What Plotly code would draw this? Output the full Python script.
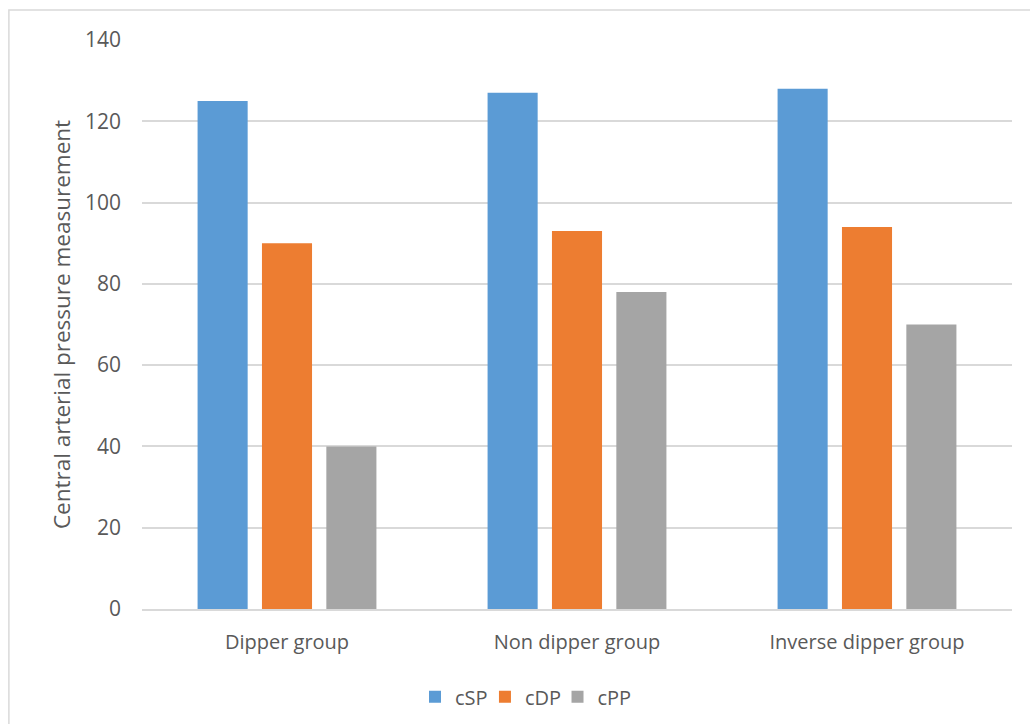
import plotly.graph_objects as go

# Group labels and central arterial pressure values per measure
groups = ["Dipper group", "Non dipper group", "Inverse dipper group"]
series_names = ["cSP", "cDP", "cPP"]
csp = [125, 127, 128]
cdp = [90, 93, 94]
cpp = [40, 78, 70]
y_ticks = [0, 20, 40, 60, 80, 100, 120, 140]

colors = ["#5B9BD5", "#ED7D31", "#A5A5A5"]
legend_ids = ["legend", "legend2", "legend3"]
legend_x = [0.3138, 0.3942, 0.4776]
font_family = "Open Sans, Calibri, Carlito, sans-serif"
text_color = "#595959"

fig = go.Figure()
for name, vals, col, lg in zip(series_names, [csp, cdp, cpp], colors, legend_ids):
    fig.add_trace(go.Bar(
        x=groups, y=vals, name=name, legend=lg,
        marker=dict(color=col, line=dict(width=0)),
    ))

# Outer chart border
fig.add_shape(
    type="rect", xref="paper", yref="paper",
    x0=-0.153, x1=1.03, y0=-0.215, y1=1.0527,
    line=dict(color="#D9D9D9", width=1.5), fillcolor="rgba(0,0,0,0)",
    layer="below",
)

# One legend box per series, laid out side by side below the axis
legend_layout = {}
for lg, lx in zip(legend_ids, legend_x):
    legend_layout[lg] = dict(
        orientation="h", x=lx, xanchor="left", y=-0.12, yanchor="top",
        font=dict(size=20, color=text_color), itemwidth=30,
        bgcolor="rgba(0,0,0,0)",
    )

fig.update_layout(
    width=1030, height=724,
    margin=dict(l=142, r=18, t=40, b=115, autoexpand=False),
    paper_bgcolor="white", plot_bgcolor="white",
    barmode="group", bargap=0.334, bargroupgap=0.222,
    font=dict(family=font_family, size=20, color=text_color),
    showlegend=True,
    xaxis=dict(
        showgrid=False, showline=True, linecolor="#D9D9D9", linewidth=1.5,
        ticks="", tickfont=dict(size=20, color=text_color),
        ticklabelstandoff=14,
    ),
    yaxis=dict(
        range=[0, 140], tickvals=y_ticks, showgrid=True,
        gridcolor="#D9D9D9", gridwidth=1.5, zeroline=False,
        showline=False, ticks="", ticklabelstandoff=20,
        tickfont=dict(size=21, color=text_color),
        title=dict(text="Central arterial pressure measurement",
                   font=dict(size=22.5, color=text_color), standoff=8),
    ),
    **legend_layout,
)

fig.write_html("out.html")
